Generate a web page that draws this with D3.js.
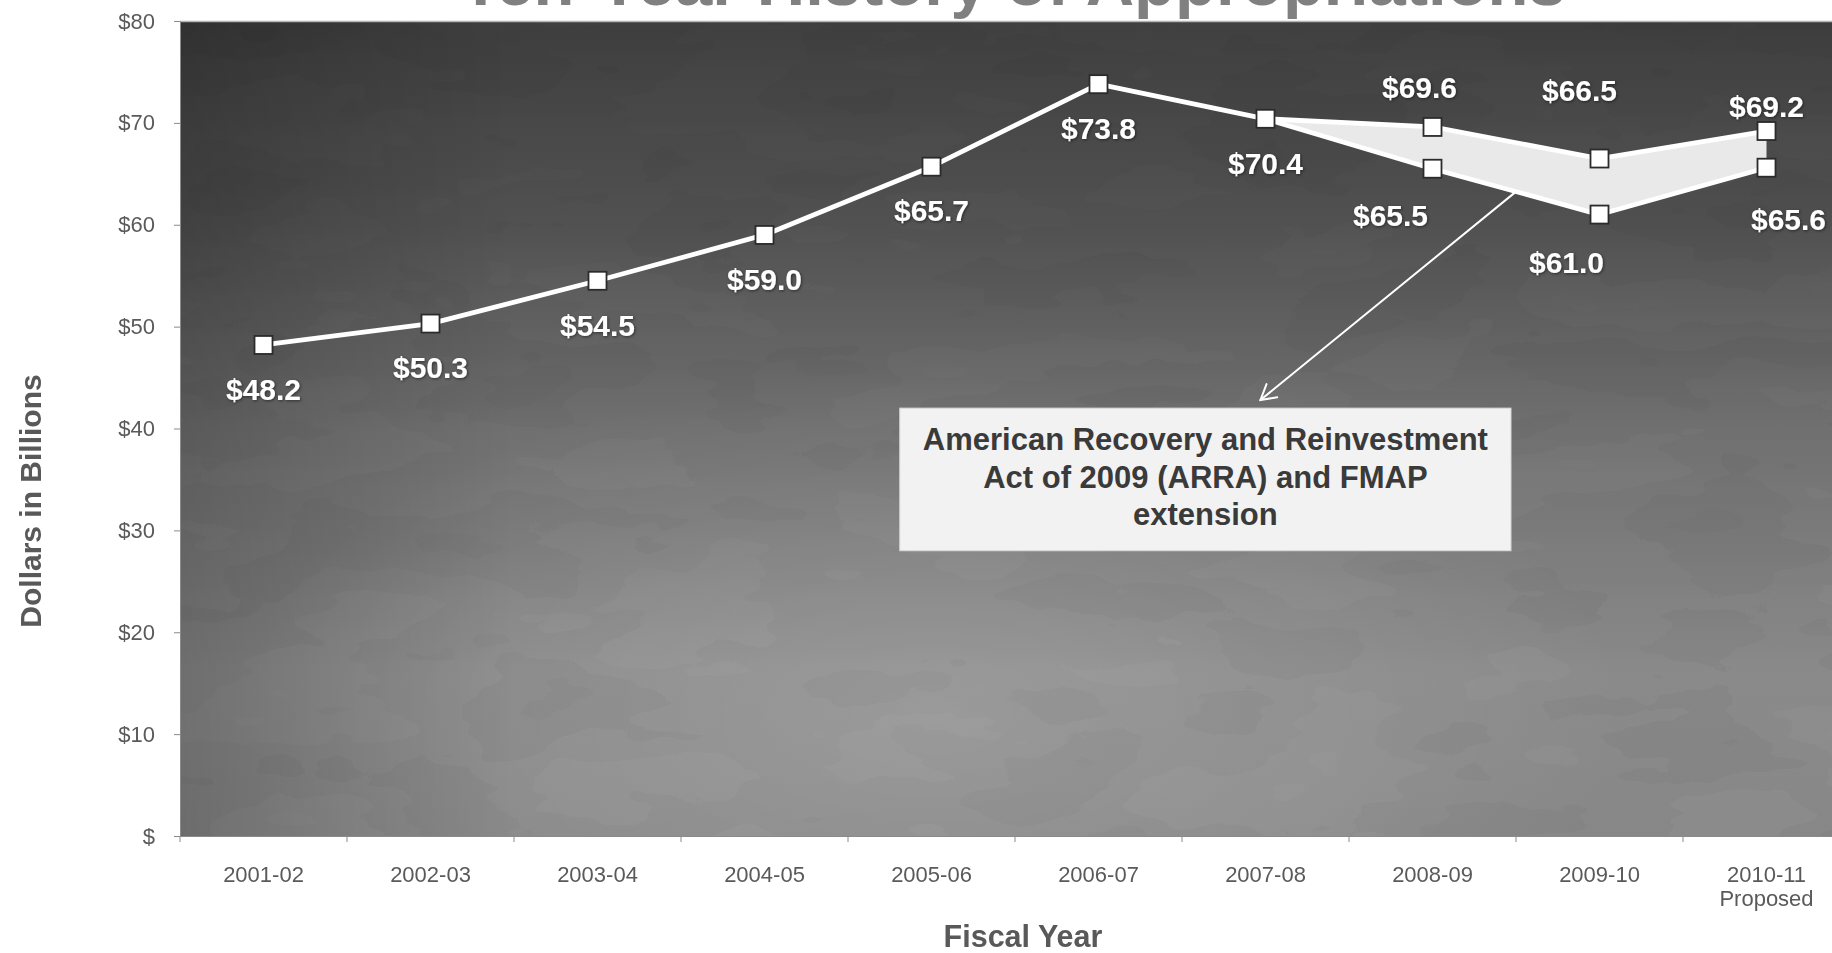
<!DOCTYPE html>
<html>
<head>
<meta charset="utf-8">
<script src="https://cdn.jsdelivr.net/npm/d3@7"></script>
<style>
  html, body { margin: 0; padding: 0; background: #fff; overflow: hidden; }
  svg { display: block; font-family: "Liberation Sans", Arial, Helvetica, sans-serif; }
</style>
</head>
<body>
<svg id="chart" width="1832" height="953"></svg>
<script>
// ---- data ----
const fiscalYears = ["2001-02", "2002-03", "2003-04", "2004-05", "2005-06",
                     "2006-07", "2007-08", "2008-09", "2009-10", "2010-11"];
const yearNotes = ["", "", "", "", "", "", "", "", "", "Proposed"];

// enacted appropriations, $ billions
const historyYears = ["2001-02", "2002-03", "2003-04", "2004-05", "2005-06", "2006-07", "2007-08"];
const historyValues = [48.2, 50.3, 54.5, 59.0, 65.7, 73.8, 70.4];

// from 2007-08 on: total including ARRA / FMAP funds, and General Fund alone
const splitYears = ["2007-08", "2008-09", "2009-10", "2010-11"];
const withArraValues = [70.4, 69.6, 66.5, 69.2];
const withoutArraValues = [70.4, 65.5, 61.0, 65.6];

const yTickValues = [0, 10, 20, 30, 40, 50, 60, 70, 80];
const yTickLabels = ["$", "$10", "$20", "$30", "$40", "$50", "$60", "$70", "$80"];

const chartTitle = "Ten-Year History of Appropriations";
const yAxisTitle = "Dollars in Billions";
const xAxisTitle = "Fiscal Year";
const noteLines = ["American Recovery and Reinvestment", "Act of 2009 (ARRA) and FMAP", "extension"];

// ---- layout ----
const svg = d3.select("#chart");
const plot = { left: 180, right: 1850, top: 21, bottom: 836 };

const x = d3.scaleBand().domain(fiscalYears).range([plot.left, plot.right]);
const bw = x.bandwidth();
const cx = d => x(d) + bw / 2;
const y = d3.scaleLinear().domain([0, 80]).range([plot.bottom, plot.top]);

const money = v => "$" + v.toFixed(1);

// ---- defs: background shading, mottled texture, label shadow ----
const defs = svg.append("defs");

const bg = defs.append("linearGradient").attr("id", "bgFill")
  .attr("x1", 0).attr("y1", 0).attr("x2", 0).attr("y2", 1);
[[0, "#343434"], [0.25, "#444444"], [0.5, "#5e5e5e"], [0.8, "#747474"], [1, "#727272"]]
  .forEach(([o, c]) => bg.append("stop").attr("offset", o).attr("stop-color", c));

const glow = defs.append("radialGradient").attr("id", "bgGlow")
  .attr("cx", 0.45).attr("cy", 0.85).attr("r", 0.42);
glow.append("stop").attr("offset", 0).attr("stop-color", "#fff").attr("stop-opacity", 0.14);
glow.append("stop").attr("offset", 1).attr("stop-color", "#fff").attr("stop-opacity", 0);

const edge = defs.append("linearGradient").attr("id", "bgEdge")
  .attr("x1", 0).attr("y1", 0).attr("x2", 1).attr("y2", 0);
edge.append("stop").attr("offset", 0).attr("stop-color", "#000").attr("stop-opacity", 0.2);
edge.append("stop").attr("offset", 0.2).attr("stop-color", "#000").attr("stop-opacity", 0);

const mottle = defs.append("filter").attr("id", "mottle")
  .attr("x", 0).attr("y", 0).attr("width", 1).attr("height", 1);
mottle.append("feTurbulence").attr("type", "fractalNoise")
  .attr("baseFrequency", "0.005 0.012").attr("numOctaves", 4).attr("seed", 11);
mottle.append("feColorMatrix").attr("type", "matrix")
  .attr("values", "1 0 0 0 0  1 0 0 0 0  1 0 0 0 0  0 0 0 0 1");
const ct = mottle.append("feComponentTransfer");
["feFuncR", "feFuncG", "feFuncB"].forEach(f =>
  ct.append(f).attr("type", "discrete").attr("tableValues", "0.4 0.45 0.5 0.55 0.6"));

const shadow = defs.append("filter").attr("id", "labelShadow")
  .attr("x", "-20%").attr("y", "-30%").attr("width", "140%").attr("height", "160%");
shadow.append("feDropShadow").attr("dx", 1).attr("dy", 1).attr("stdDeviation", 1.4)
  .attr("flood-color", "#000").attr("flood-opacity", 0.5);

// ---- title (runs off the top edge) ----
svg.append("text")
  .attr("x", 1013).attr("y", 5)
  .attr("text-anchor", "middle")
  .attr("font-size", 67).attr("font-weight", "bold")
  .attr("fill", "#808080")
  .text(chartTitle);

// ---- plot background ----
const pw = plot.right - plot.left, ph = plot.bottom - plot.top;
const bgG = svg.append("g");
bgG.append("rect").attr("x", plot.left).attr("y", plot.top).attr("width", pw).attr("height", ph)
  .attr("fill", "url(#bgFill)");
bgG.append("rect").attr("x", plot.left).attr("y", plot.top).attr("width", pw).attr("height", ph)
  .attr("fill", "#808080").attr("filter", "url(#mottle)")
  .style("mix-blend-mode", "overlay").attr("opacity", 0.4);
bgG.append("rect").attr("x", plot.left).attr("y", plot.top).attr("width", pw).attr("height", ph)
  .attr("fill", "url(#bgGlow)");
bgG.append("rect").attr("x", plot.left).attr("y", plot.top).attr("width", pw).attr("height", ph)
  .attr("fill", "url(#bgEdge)");
bgG.append("line").attr("x1", plot.left).attr("x2", plot.right)
  .attr("y1", plot.top + 0.5).attr("y2", plot.top + 0.5)
  .attr("stroke", "#b5b5b5").attr("stroke-width", 1.5);

// ---- y axis ----
const yAxis = svg.append("g")
  .attr("transform", `translate(${plot.left},0)`)
  .call(d3.axisLeft(y).tickValues(yTickValues)
        .tickFormat((d, i) => yTickLabels[i]).tickSize(6).tickPadding(19));
yAxis.attr("font-family", null).attr("font-size", 22);
yAxis.select(".domain").attr("stroke", "#8a8a8a");
yAxis.selectAll(".tick line").attr("stroke", "#8a8a8a");
yAxis.selectAll(".tick text").attr("fill", "#5a5a5a");

// ---- x axis: ticks on category boundaries, labels centred ----
const xAxis = svg.append("g")
  .attr("transform", `translate(0,${plot.bottom})`)
  .call(d3.axisBottom(x).tickSize(0).tickPadding(30));
xAxis.attr("font-family", null).attr("font-size", 22);
xAxis.select(".domain").attr("stroke", "#8a8a8a");
xAxis.selectAll(".tick text").attr("fill", "#5a5a5a")
  .each(function (d) {
    const note = yearNotes[fiscalYears.indexOf(d)];
    if (note) {
      d3.select(this).append("tspan").attr("x", 0).attr("dy", "1.12em").text(note);
    }
  });
xAxis.selectAll(".boundary").data(fiscalYears).join("line")
  .attr("class", "boundary")
  .attr("x1", d => x(d)).attr("x2", d => x(d))
  .attr("y1", 0).attr("y2", 6)
  .attr("stroke", "#8a8a8a");

// ---- axis titles ----
svg.append("text")
  .attr("transform", "translate(30,501) rotate(-90)")
  .attr("text-anchor", "middle").attr("dominant-baseline", "central")
  .attr("font-size", 30).attr("font-weight", "bold").attr("fill", "#595959")
  .text(yAxisTitle);
svg.append("text")
  .attr("x", 1023).attr("y", 947)
  .attr("text-anchor", "middle")
  .attr("font-size", 30.5).attr("font-weight", "bold").attr("fill", "#595959")
  .text(xAxisTitle);

// ---- callout arrow (from the General Fund line to the note box) ----
const arrowFrom = [
  (cx("2008-09") + cx("2009-10")) / 2,
  y((withoutArraValues[1] + withoutArraValues[2]) / 2)
];
const arrowTo = [cx("2007-08") - 0.03 * bw, y(42.8)];
const arrowG = svg.append("g").attr("stroke", "#fff").attr("stroke-width", 2)
  .attr("fill", "none").attr("stroke-linecap", "round");
arrowG.append("line")
  .attr("x1", arrowFrom[0]).attr("y1", arrowFrom[1])
  .attr("x2", arrowTo[0]).attr("y2", arrowTo[1]);
{
  const ang = Math.atan2(arrowTo[1] - arrowFrom[1], arrowTo[0] - arrowFrom[0]);
  const len = 17, spread = Math.PI / 6;
  const p1 = [arrowTo[0] - len * Math.cos(ang - spread), arrowTo[1] - len * Math.sin(ang - spread)];
  const p2 = [arrowTo[0] - len * Math.cos(ang + spread), arrowTo[1] - len * Math.sin(ang + spread)];
  arrowG.append("path").attr("d", d3.line()([p1, arrowTo, p2]));
}

// ---- band between the two totals ----
const bandArea = d3.area()
  .x((d, i) => cx(splitYears[i]))
  .y0((d, i) => y(withoutArraValues[i]))
  .y1((d, i) => y(withArraValues[i]));
svg.append("path").datum(splitYears)
  .attr("d", bandArea)
  .attr("fill", "#e9e9e9");

// ---- lines ----
const lineOf = (years, values) => d3.line()
  .x((d, i) => cx(years[i])).y((d, i) => y(values[i]))(values);
const lineG = svg.append("g").attr("fill", "none").attr("stroke", "#fff")
  .attr("stroke-width", 4.8).attr("stroke-linejoin", "round");
lineG.append("path").attr("d", lineOf(historyYears, historyValues));
lineG.append("path").attr("d", lineOf(splitYears, withArraValues));
lineG.append("path").attr("d", lineOf(splitYears, withoutArraValues));

// ---- markers ----
const points = [
  ...historyYears.map((yr, i) => ({ yr, v: historyValues[i], set: "history" })),
  ...splitYears.slice(1).map((yr, i) => ({ yr, v: withArraValues[i + 1], set: "upper", k: i })),
  ...splitYears.slice(1).map((yr, i) => ({ yr, v: withoutArraValues[i + 1], set: "lower", k: i }))
];
const ms = 18;
svg.append("g").selectAll("rect").data(points).join("rect")
  .attr("x", d => cx(d.yr) - ms / 2).attr("y", d => y(d.v) - ms / 2)
  .attr("width", ms).attr("height", ms)
  .attr("fill", "#fff").attr("stroke", "#2b2b2b").attr("stroke-width", 1.8);

// ---- value labels ----
// label placement relative to each marker (px)
const upperNudge = [[-13, -40], [-20, -68], [0, -25]];
const lowerNudge = [[-42, 46], [-33, 48], [22, 51]];
const nudge = d => d.set === "history" ? [0, 44]
  : d.set === "upper" ? upperNudge[d.k] : lowerNudge[d.k];
svg.append("g")
  .attr("font-size", 30).attr("font-weight", "bold").attr("fill", "#fff")
  .attr("text-anchor", "middle")
  .attr("filter", "url(#labelShadow)")
  .selectAll("text").data(points).join("text")
  .attr("x", d => cx(d.yr) + nudge(d)[0])
  .attr("y", d => y(d.v) + nudge(d)[1])
  .attr("dy", "0.36em")
  .text(d => money(d.v));

// ---- note box ----
const box = {
  x0: x("2005-06") + 0.31 * bw, x1: x("2009-10") - 0.03 * bw,
  y0: y(42.0), y1: y(28.0)
};
svg.append("rect")
  .attr("x", box.x0).attr("y", box.y0)
  .attr("width", box.x1 - box.x0).attr("height", box.y1 - box.y0)
  .attr("fill", "#f2f2f2").attr("stroke", "#d8d8d8").attr("stroke-width", 1);
const boxMid = (box.x0 + box.x1) / 2;
svg.append("g").attr("font-size", 31).attr("font-weight", "bold")
  .attr("fill", "#3a3a3a").attr("text-anchor", "middle")
  .selectAll("text").data(noteLines).join("text")
  .attr("x", boxMid)
  .attr("y", (d, i) => box.y0 + 31 + i * 37.5)
  .attr("dy", "0.36em")
  .text(d => d);
</script>
</body>
</html>
